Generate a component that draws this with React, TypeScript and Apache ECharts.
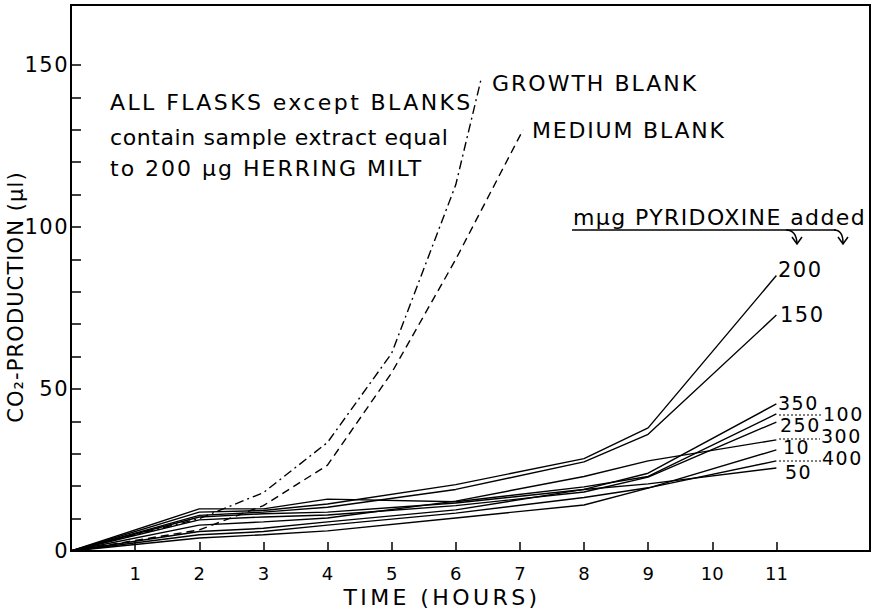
import React, { useEffect, useRef } from "react";
import * as echarts from "echarts";

// Time points (hours) for pyridoxine flasks
const hours = [0, 2, 3, 4, 6, 8, 9, 11];
// CO2 production (µl) by mµg pyridoxine added
const pyr200 = [0, 12, 12.5, 14.5, 20.5, 28.5, 38, 85];
const pyr150 = [0, 11, 12, 13.5, 19, 27.5, 36, 72.8];
const pyr100 = [0, 13, 13, 16, 15.2, 19.8, 23, 42.3];
const pyr350 = [0, 10.5, 11.5, 12, 14.8, 19, 24, 45.4];
const pyr250 = [0, 9.6, 10.5, 11.1, 14, 18.2, 22.8, 39.8];
const pyr300 = [0, 8, 9, 10.2, 15.4, 23, 27.8, 34.3];
const pyr50 = [0, 6, 7, 9, 12.7, 19, 20.7, 25.6];
const pyr400 = [0, 5, 6, 8, 11.7, 16.5, 19.5, 27.8];
const pyr10 = [0, 4, 5, 6.2, 10.2, 14.2, 19.4, 31.2];

// Blanks
const growthHours = [0, 2, 3, 4, 5, 6, 6.4];
const growthBlank = [0, 10, 18, 33.5, 61, 113, 146];
const mediumHours = [0, 2, 3, 4, 5, 6, 7.05];
const mediumBlank = [0, 6.5, 14, 26.5, 55, 90, 130];

const xTickLabels = [1, 2, 3, 4, 5, 6, 7, 8, 9, 10, 11];
const yTickLabels = [0, 50, 100, 150];
const yMinorTicks = [10, 20, 30, 40, 50, 60, 70, 80, 90, 100, 110, 120, 130, 140, 150];

const FONT = "DejaVu Sans";

// extra spacing between letters (the original is hand-lettered with a stencil)
const LETTER_SPACING: Record<string, number> = {
  "ALL FLASKS except BLANKS": 2.4,
  "contain sample extract equal": 0.6,
  "to 200 µg HERRING MILT": 2,
  "GROWTH BLANK": 2,
  "MEDIUM BLANK": 1.8,
  "mµg PYRIDOXINE added": 1.4,
  "TIME (HOURS)": 3.4,
  "CO₂-PRODUCTION (µl)": 1.1,
};

const pairs = (xs: number[], ys: number[]) => xs.map((x, i) => [x, ys[i]]);

export default function App() {
  const ref = useRef<HTMLDivElement>(null);
  useEffect(() => {
    const el = ref.current!;
    const chart = echarts.init(el, null, { renderer: "svg" });
    const solid = (name: string, ys: number[]) => ({
      name,
      type: "line",
      data: pairs(hours, ys),
      symbol: "none",
      lineStyle: { color: "#000", width: 1.4 },
      silent: true,
    });
    const txt = (text: string, x: number, y: number, size: number, extra: any = {}) => ({
      type: "text",
      x,
      y,
      silent: true,
      ...extra,
      style: {
        text,
        fill: "#000",
        font: `${size}px "${FONT}"`,
        lineHeight: size,
        align: "left",
        verticalAlign: "middle",
        ...(extra.style || {}),
      },
    });
    const dotted = (x1: number, x2: number, y: number) => ({
      type: "line",
      silent: true,
      shape: { x1, y1: y, x2, y2: y },
      style: { stroke: "#000", lineWidth: 1.2, lineDash: [2, 2] },
    });
    const applySpacing = () => {
      el.querySelectorAll("text").forEach((t) => {
        const content = (t.textContent || "").trim();
        const s = LETTER_SPACING[content];
        const css = t.getAttribute("style") || "";
        if (s) (t as SVGTextElement).style.letterSpacing = `${s}px`;
        else if (/^\d+$/.test(content) && !css.includes("18px"))
          (t as SVGTextElement).style.letterSpacing = "1.5px";
      });
    };
    chart.on("finished", applySpacing);
    chart.setOption({
      animation: false,
      grid: {
        left: 71,
        right: 4,
        top: 5,
        bottom: 59,
        show: true,
        borderColor: "#000",
        borderWidth: 2,
        outerBoundsMode: "none",
      },
      xAxis: {
        type: "value",
        min: 0,
        max: 12.46,
        splitLine: { show: false },
        axisLine: { lineStyle: { color: "#000", width: 2 } },
        axisTick: {
          inside: true,
          length: 9,
          lineStyle: { color: "#000", width: 1.5 },
          customValues: xTickLabels,
        },
        axisLabel: {
          customValues: xTickLabels,
          color: "#000",
          fontSize: 18,
          fontFamily: FONT,
          margin: 13,
        },
      },
      yAxis: {
        type: "value",
        min: 0,
        max: 168.5,
        splitLine: { show: false },
        axisLine: { lineStyle: { color: "#000", width: 2 } },
        axisTick: {
          inside: true,
          length: 10,
          lineStyle: { color: "#000", width: 1.5 },
          customValues: yMinorTicks,
        },
        axisLabel: {
          customValues: yTickLabels,
          color: "#000",
          fontSize: 21,
          fontFamily: FONT,
          margin: 2,
        },
      },
      series: [
        solid("200", pyr200),
        solid("150", pyr150),
        solid("100", pyr100),
        solid("350", pyr350),
        solid("250", pyr250),
        solid("300", pyr300),
        solid("50", pyr50),
        solid("400", pyr400),
        solid("10", pyr10),
        {
          name: "GROWTH BLANK",
          type: "line",
          data: pairs(growthHours, growthBlank),
          symbol: "none",
          silent: true,
          lineStyle: { color: "#000", width: 1.4, type: [9, 4, 2, 4] },
        },
        {
          name: "MEDIUM BLANK",
          type: "line",
          data: pairs(mediumHours, mediumBlank),
          symbol: "none",
          silent: true,
          lineStyle: { color: "#000", width: 1.4, type: [8, 5] },
        },
      ],
      graphic: [
        txt("ALL FLASKS except BLANKS", 110, 102, 22),
        txt("contain sample extract equal", 110, 137, 22),
        txt("to 200 µg HERRING MILT", 110, 168, 22),
        txt("GROWTH BLANK", 492, 83, 22),
        txt("MEDIUM BLANK", 532, 130, 22),
        txt("mµg PYRIDOXINE added", 573, 217, 22),
        {
          type: "polyline",
          silent: true,
          shape: { points: [[572, 230], [836, 230]] },
          style: { stroke: "#000", lineWidth: 1.5, fill: null },
        },
        {
          type: "bezierCurve",
          silent: true,
          shape: { x1: 786, y1: 230, cpx1: 796, cpy1: 230, x2: 797, y2: 243 },
          style: { stroke: "#000", lineWidth: 1.5, fill: null },
        },
        {
          type: "polyline",
          silent: true,
          shape: { points: [[792, 237], [797, 244], [802, 237]] },
          style: { stroke: "#000", lineWidth: 1.5, fill: null },
        },
        {
          type: "bezierCurve",
          silent: true,
          shape: { x1: 834, y1: 230, cpx1: 843, cpy1: 230, x2: 843, y2: 243 },
          style: { stroke: "#000", lineWidth: 1.5, fill: null },
        },
        {
          type: "polyline",
          silent: true,
          shape: { points: [[838, 237], [843, 244], [848, 237]] },
          style: { stroke: "#000", lineWidth: 1.5, fill: null },
        },
        txt("200", 778, 270, 21),
        txt("150", 780, 315, 21),
        txt("350", 778, 403, 19),
        txt("100", 823, 414, 19),
        txt("250", 780, 425, 19),
        txt("300", 821, 436, 19),
        txt("10", 783, 447, 19),
        txt("400", 822, 458, 19),
        txt("50", 785, 472, 19),
        dotted(779, 822, 415),
        dotted(779, 820, 439),
        dotted(779, 821, 461),
        txt("TIME (HOURS)", 442, 597, 22, { style: { align: "center" } }),
        txt("CO₂-PRODUCTION (µl)", 16, 297, 21, {
          rotation: Math.PI / 2,
          style: { align: "center" },
        }),
      ],
    });
    applySpacing();
    return () => chart.dispose();
  }, []);
  return (
    <div
      ref={ref}
      style={{ position: "absolute", left: 0, top: 0, width: 874, height: 610, background: "#fff" }}
    />
  );
}
